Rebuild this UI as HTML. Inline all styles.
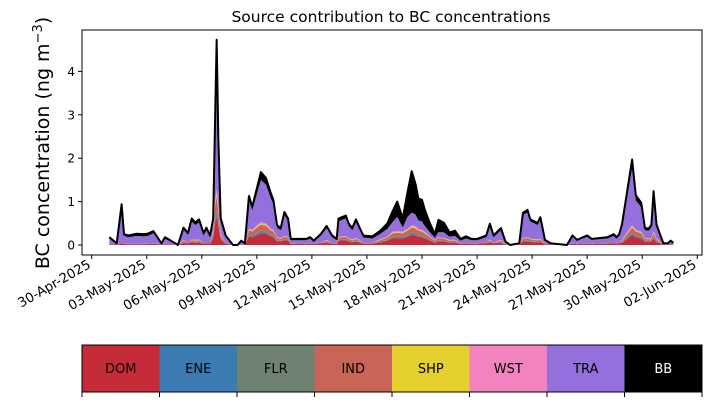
<!DOCTYPE html>
<html><head><meta charset="utf-8"><style>
html,body{margin:0;padding:0;background:#fff;}
svg{display:block;font-family:"DejaVu Sans","Liberation Sans",sans-serif;}
</style></head><body>
<svg id="chart" width="711" height="402" viewBox="0 0 711 402">
<text x="391" y="22" font-size="15.5" text-anchor="middle">Source contribution to BC concentrations</text>
<text transform="translate(49,143) rotate(-90)" font-size="19" text-anchor="middle">BC concentration (ng m<tspan dy="-7" font-size="13">−3</tspan><tspan dy="7">)</tspan></text>
<g id="areas"></g>
<g id="yaxis"></g>
<g id="xaxis"></g>
<rect x="82" y="30" width="620" height="225" fill="none" stroke="#000" stroke-width="1"/>
<g id="cbar"></g>
</svg>
<script>
const days=[0.96,1.36,1.5,1.63,1.76,2.0,2.45,2.8,3.05,3.36,3.8,4.0,4.7,5.0,5.25,5.45,5.65,5.85,6.1,6.25,6.45,6.62,6.72,6.81,6.9,7.03,7.3,7.7,7.95,8.15,8.35,8.57,8.75,8.95,9.22,9.5,9.75,9.9,10.1,10.3,10.5,10.7,10.85,11.7,11.9,12.1,12.5,12.8,13.1,13.35,13.45,13.85,14.0,14.2,14.4,14.6,14.8,15.3,15.7,16.1,16.4,16.65,16.95,17.2,17.44,17.65,17.8,18.0,18.15,18.4,18.7,18.9,19.2,19.5,19.8,20.1,20.4,20.7,21.0,21.5,21.7,21.9,22.3,22.55,22.8,23.3,23.5,23.75,23.9,24.3,24.45,24.7,25.0,25.9,26.2,26.45,27.0,27.25,28.1,28.45,28.6,28.75,28.9,29.45,29.65,29.95,30.15,30.35,30.5,30.62,30.78,31.15,31.4,31.55,31.7];
const DOM=[0.02,0.01,0.02,0.04,0.02,0.02,0.02,0.02,0.02,0.03,0.01,0.02,0,0.05,0.04,0.06,0.05,0.06,0.03,0.04,0.03,0.15,0.5,0.65,0.45,0.13,0.03,0,0,0.01,0.01,0.2,0.18,0.21,0.27,0.25,0.2,0.18,0.09,0.08,0.11,0.1,0.03,0.02,0.03,0.02,0.04,0.05,0.03,0.02,0.1,0.11,0.08,0.06,0.08,0.05,0.03,0.03,0.06,0.1,0.15,0.16,0.15,0.19,0.23,0.21,0.19,0.18,0.15,0.11,0.05,0.09,0.08,0.05,0.05,0.03,0.03,0.03,0.03,0.04,0.06,0.04,0.05,0.01,0,0.01,0.08,0.09,0.07,0.06,0.07,0.02,0.01,0,0.03,0.02,0.03,0.02,0.03,0.04,0.03,0.04,0.05,0.23,0.18,0.15,0.08,0.07,0.08,0.15,0.07,0.01,0.01,0.02,0.01];
const ENE=[0,0,0,0,0,0,0,0,0,0,0,0,0,0.01,0,0.01,0.01,0.01,0,0,0,0.02,0.06,0.08,0.05,0.02,0,0,0,0,0,0.02,0.02,0.03,0.03,0.03,0.02,0.02,0.01,0.01,0.01,0.01,0,0,0,0,0,0.01,0,0,0.01,0.01,0.01,0.01,0.01,0.01,0,0,0.01,0.01,0.02,0.02,0.02,0.02,0.03,0.03,0.02,0.02,0.02,0.01,0.01,0.01,0.01,0.01,0.01,0,0,0,0,0,0.01,0,0.01,0,0,0,0.01,0.01,0.01,0.01,0.01,0,0,0,0,0,0,0,0,0,0,0,0.01,0.03,0.02,0.02,0.01,0.01,0.01,0.02,0.01,0,0,0,0];
const FLR=[0,0,0,0,0,0,0,0,0,0,0,0,0,0.01,0,0.01,0.01,0.01,0,0,0,0.02,0.06,0.08,0.05,0.02,0,0,0,0,0,0.02,0.02,0.03,0.03,0.03,0.02,0.02,0.01,0.01,0.01,0.01,0,0,0,0,0,0.01,0,0,0.01,0.01,0.01,0.01,0.01,0.01,0,0,0.01,0.01,0.02,0.02,0.02,0.02,0.03,0.03,0.02,0.02,0.02,0.01,0.01,0.01,0.01,0.01,0.01,0,0,0,0,0,0.01,0,0.01,0,0,0,0.01,0.01,0.01,0.01,0.01,0,0,0,0,0,0,0,0,0,0,0,0.01,0.03,0.02,0.02,0.01,0.01,0.01,0.02,0.01,0,0,0,0];
const IND=[0.01,0,0.01,0.02,0.01,0.01,0.01,0.01,0.01,0.01,0,0.01,0,0.03,0.02,0.03,0.03,0.03,0.02,0.02,0.01,0.08,0.25,0.33,0.23,0.06,0.01,0,0,0,0,0.1,0.09,0.11,0.14,0.13,0.1,0.09,0.05,0.04,0.06,0.05,0.01,0.01,0.01,0.01,0.02,0.03,0.02,0.01,0.05,0.06,0.04,0.03,0.04,0.03,0.02,0.02,0.03,0.05,0.08,0.08,0.08,0.1,0.11,0.11,0.1,0.09,0.08,0.06,0.03,0.05,0.04,0.03,0.03,0.02,0.02,0.01,0.01,0.02,0.03,0.02,0.03,0.01,0,0,0.04,0.05,0.04,0.03,0.04,0.01,0,0,0.01,0.01,0.01,0.01,0.02,0.02,0.02,0.02,0.03,0.11,0.09,0.08,0.04,0.04,0.04,0.08,0.04,0,0,0.01,0];
const SHP=[0,0,0,0,0,0,0,0,0,0,0,0,0,0.01,0,0.01,0.01,0.01,0,0,0,0.02,0.06,0.08,0.05,0.02,0,0,0,0,0,0.02,0.02,0.03,0.03,0.03,0.02,0.02,0.01,0.01,0.01,0.01,0,0,0,0,0,0.01,0,0,0.01,0.01,0.01,0.01,0.01,0.01,0,0,0.01,0.01,0.02,0.02,0.02,0.02,0.03,0.03,0.02,0.02,0.02,0.01,0.01,0.01,0.01,0.01,0.01,0,0,0,0,0,0.01,0,0.01,0,0,0,0.01,0.01,0.01,0.01,0.01,0,0,0,0,0,0,0,0,0,0,0,0.01,0.03,0.02,0.02,0.01,0.01,0.01,0.02,0.01,0,0,0,0];
const WST=[0,0,0,0,0,0,0,0,0,0,0,0,0,0.01,0,0.01,0.01,0.01,0,0,0,0.02,0.06,0.08,0.05,0.02,0,0,0,0,0,0.02,0.02,0.03,0.03,0.03,0.02,0.02,0.01,0.01,0.01,0.01,0,0,0,0,0,0.01,0,0,0.01,0.01,0.01,0.01,0.01,0.01,0,0,0.01,0.01,0.02,0.02,0.02,0.02,0.03,0.03,0.02,0.02,0.02,0.01,0.01,0.01,0.01,0.01,0.01,0,0,0,0,0,0.01,0,0.01,0,0,0,0.01,0.01,0.01,0.01,0.01,0,0,0,0,0,0,0,0,0,0,0,0.01,0.03,0.02,0.02,0.01,0.01,0.01,0.02,0.01,0,0,0,0];
const TRA=[0.12,0.02,0.41,0.80,0.18,0.15,0.18,0.17,0.18,0.23,0.02,0.11,0,0.23,0.17,0.41,0.34,0.39,0.17,0.28,0.14,0.23,1.55,3.08,1.35,0.29,0.15,0,0,0.07,0.02,0.65,0.45,0.66,0.97,0.89,0.71,0.59,0.22,0.18,0.48,0.36,0.07,0.08,0.11,0.05,0.16,0.27,0.13,0.08,0.36,0.40,0.28,0.21,0.37,0.23,0.12,0.10,0.12,0.18,0.22,0.33,0.10,0.27,0.29,0.26,0.20,0.19,0.13,0.10,0.05,0.12,0.13,0.07,0.09,0.05,0.10,0.07,0.07,0.12,0.30,0.12,0.22,0.05,0,0.02,0.53,0.57,0.39,0.33,0.44,0.07,0.02,0,0.15,0.07,0.15,0.09,0.10,0.15,0.10,0.15,0.31,1.31,0.68,0.56,0.18,0.18,0.24,0.81,0.26,0.02,0.02,0.05,0.03];
const BB=[0.03,0.01,0.05,0.08,0.04,0.04,0.05,0.05,0.05,0.05,0.01,0.04,0,0.05,0.05,0.07,0.06,0.07,0.05,0.06,0.04,0.07,0.25,0.35,0.25,0.06,0.03,0,0,0.02,0.01,0.1,0.08,0.12,0.18,0.15,0.12,0.1,0.06,0.05,0.07,0.06,0.03,0.03,0.03,0.02,0.04,0.05,0.04,0.03,0.06,0.07,0.06,0.05,0.06,0.05,0.05,0.05,0.07,0.12,0.25,0.35,0.2,0.55,0.95,0.7,0.5,0.5,0.38,0.22,0.08,0.28,0.22,0.1,0.12,0.04,0.05,0.03,0.03,0.04,0.06,0.04,0.05,0.01,0,0.01,0.05,0.06,0.05,0.05,0.05,0.02,0.01,0,0.03,0.02,0.03,0.02,0.03,0.04,0.03,0.04,0.05,0.2,0.12,0.1,0.05,0.05,0.06,0.12,0.06,0.01,0.01,0.02,0.01];
const seriesNames=["DOM","ENE","FLR","IND","SHP","WST","TRA","BB"];
const seriesColors=["#c62b39","#3b7bb3","#6f8171","#c96556","#e5d02f","#f383be","#9370db","#000000"];
const yTicks=[0,1,2,3,4];
const xTickLabels=["30-Apr-2025","03-May-2025","06-May-2025","09-May-2025","12-May-2025","15-May-2025","18-May-2025","21-May-2025","24-May-2025","27-May-2025","30-May-2025","02-Jun-2025"];
const xTickDays=[0,3,6,9,12,15,18,21,24,27,30,33];

const NS="http://www.w3.org/2000/svg";
const X=d=>91.7+d*18.35;
const Y=v=>245-v*43.4;
function mk(tag,attrs,parent){const e=document.createElementNS(NS,tag);for(const k in attrs)e.setAttribute(k,attrs[k]);parent.appendChild(e);return e;}
const all=[DOM,ENE,FLR,IND,SHP,WST,TRA,BB];
const areas=document.getElementById('areas');
let base=days.map(()=>0);
all.forEach((s,k)=>{
  const top=base.map((b,i)=>b+s[i]);
  let d="M"+days.map((t,i)=>X(t).toFixed(2)+","+Y(top[i]).toFixed(2)).join("L");
  for(let i=days.length-1;i>=0;i--)d+="L"+X(days[i]).toFixed(2)+","+Y(base[i]).toFixed(2);
  const p=mk('path',{d:d+"Z",fill:seriesColors[k],stroke:"none"},areas);
  
  
  base=top;
});
const line=mk('path',{d:"M"+days.map((t,i)=>X(t).toFixed(2)+","+Y(base[i]).toFixed(2)).join("L"),fill:"none",stroke:"#000","stroke-width":2,"stroke-linejoin":"round"},areas);



const ya=document.getElementById('yaxis');
yTicks.forEach(v=>{
  const l=mk('line',{x1:78,x2:82,y1:Y(v),y2:Y(v),stroke:"#000"},ya);
  
  
  const t=mk('text',{x:75,y:Y(v)+4.5,"font-size":12,"text-anchor":"end"},ya);
  t.textContent=v;
  
  
});
const xa=document.getElementById('xaxis');
xTickDays.forEach((dd,i)=>{
  const x=X(dd);
  const l=mk('line',{x1:x,x2:x,y1:255,y2:259,stroke:"#000"},xa);
  
  
  const t=mk('text',{transform:`translate(${x},${267}) rotate(-30)`,"font-size":13.2,"text-anchor":"end"},xa);
  t.textContent=xTickLabels[i];
  
  
});
const cb=document.getElementById('cbar');
const w=620/8;
seriesNames.forEach((n,k)=>{
  const r=mk('rect',{x:82+k*w,y:345,width:w+0.5,height:47,fill:seriesColors[k]},cb);
  
  
  const t=mk('text',{x:82+k*w+w/2,y:373,"font-size":13,"text-anchor":"middle",fill:k==7?"#fff":"#000"},cb);
  t.textContent=n;
  
  
});
const fr=mk('rect',{x:82,y:345,width:620,height:47,fill:"none",stroke:"#000"},cb);


for(let k=0;k<=8;k++){
  const l=mk('line',{x1:82+k*w,x2:82+k*w,y1:392,y2:397,stroke:"#000"},cb);
  
  
}
</script>
</body></html>
